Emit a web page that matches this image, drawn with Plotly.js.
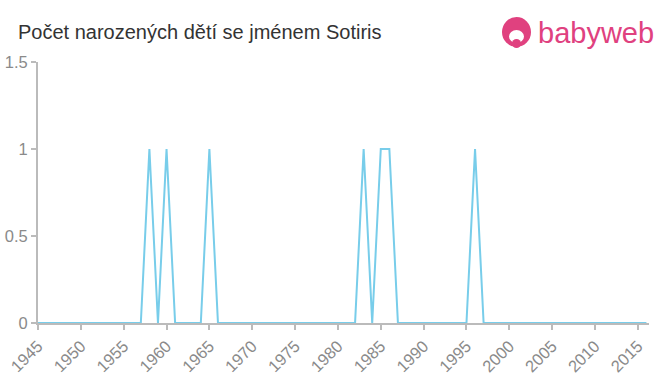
<!DOCTYPE html>
<html>
<head>
<meta charset="utf-8">
<script src="https://cdn.plot.ly/plotly-3.0.1.min.js"></script>
<style>
html,body{margin:0;padding:0;background:#fff;}
#chart{width:660px;height:375px;}
</style>
</head>
<body>
<div id="chart"></div>
<script>
const years = [];
for (let y = 1945; y <= 2016; y++) years.push(y);
const oneYears = [1958, 1960, 1965, 1983, 1985, 1986, 1996];
const counts = years.map(y => oneYears.includes(y) ? 1 : 0);
const xTickVals = [1945,1950,1955,1960,1965,1970,1975,1980,1985,1990,1995,2000,2005,2010,2015];
const yTickVals = [0, 0.5, 1, 1.5];
const yTickText = ['0', '0.5', '1', '1.5'];

const trace = {
  x: years, y: counts, type: 'scatter', mode: 'lines',
  line: {color: '#78cdea', width: 2},
  hoverinfo: 'x+y'
};

const FONT = '"Liberation Sans", Arial, sans-serif';
const px = v => (v - 38) / 611;
const py = v => (323 - v) / 261;

const layout = {
  width: 660, height: 375,
  margin: {l: 38, r: 11, t: 62, b: 52},
  paper_bgcolor: '#fff', plot_bgcolor: '#fff',
  font: {family: FONT, color: '#888', size: 16},
  title: {text: 'Počet narozených dětí se jménem Sotiris', xref: 'container', x: 18/660, xanchor: 'left',
          yref: 'container', y: 1 - 32/375, yanchor: 'middle',
          font: {size: 20, color: '#333', family: FONT}},
  showlegend: false,
  xaxis: {
    range: [1945, 2016.3], tickvals: xTickVals, ticktext: xTickVals.map(String), tickangle: -45,
    showgrid: false, zeroline: false, showline: true, linecolor: '#bbb', linewidth: 2,
    ticks: 'outside', ticklen: 5, tickcolor: '#bbb', tickwidth: 2,
    tickfont: {size: 16.5, color: '#8a8a8a', family: FONT}
  },
  yaxis: {
    range: [0, 1.5], tickvals: yTickVals, ticktext: yTickText,
    showgrid: false, zeroline: false, showline: true, linecolor: '#bbb', linewidth: 2,
    ticks: 'outside', ticklen: 5, tickcolor: '#bbb', tickwidth: 2,
    tickfont: {size: 16.5, color: '#8a8a8a', family: FONT}
  },
  shapes: [
    {type: 'circle', xref: 'paper', yref: 'paper', x0: px(502), x1: px(531), y0: py(47), y1: py(17),
     fillcolor: '#e0417f', line: {width: 0}},
    {type: 'circle', xref: 'paper', yref: 'paper', x0: px(509), x1: px(524), y0: py(43), y1: py(30),
     fillcolor: '#fff', line: {width: 0}},
    {type: 'circle', xref: 'paper', yref: 'paper', x0: px(512), x1: px(521), y0: py(48), y1: py(39),
     fillcolor: '#e0417f', line: {width: 0}}
  ],
  annotations: [
    {text: 'babyweb', xref: 'paper', yref: 'paper', x: px(536), y: py(33), xanchor: 'left', yanchor: 'middle',
     showarrow: false, font: {size: 29, color: '#e0417f', family: FONT}}
  ]
};

Plotly.newPlot('chart', [trace], layout, {displayModeBar: false, staticPlot: true});
</script>
</body>
</html>
